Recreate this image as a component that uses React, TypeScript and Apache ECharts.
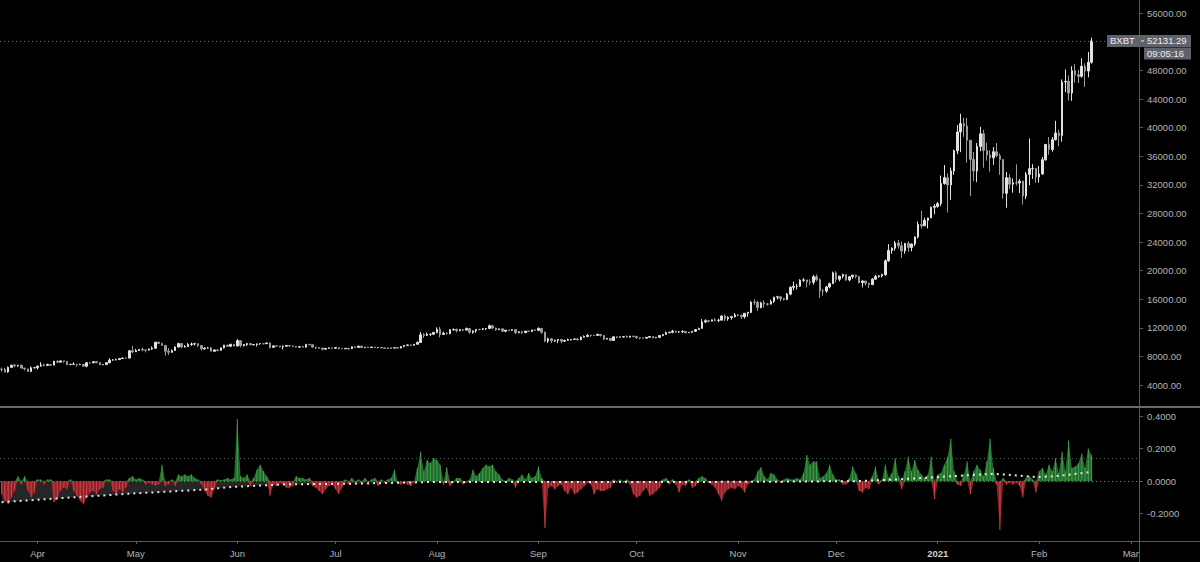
import React, { useEffect, useRef } from "react";
import * as echarts from "echarts";

// ---- data ----
const symbolName = "BXBT";
const clockText = "09:05:16";
const startYear = 2020;
const startMonth = 2; // March (0-based)
const startDay = 21;
const dayCount = 348; // axis spans Mar 21 2020 .. Mar 3 2021
const firstOpen = 6190;
const monthNames = ["Jan", "Feb", "Mar", "Apr", "May", "Jun", "Jul", "Aug", "Sep", "Oct", "Nov", "Dec"];

// daily closes from 2020-03-21 to 2021-02-17
const closes = [
  6185, 5830, 6470, 6760, 6690, 6760, 6370, 6250, 5880, 6400, 6420,
  6640, 6800, 6740, 6870, 6780, 7330, 7200, 7370, 7300, 6870, 6890, 6920, 6860, 6880, 6640, 7120, 7100, 7260, 7130, 6850, 6860, 7130, 7490, 7510, 7550, 7700, 7780, 7770, 8790, 8640,
  8830, 8980, 8900, 8890, 9030, 9150, 9990, 9810, 9540, 8730, 8570, 8820, 9310, 9790, 9320, 9380, 9680, 9730, 9780, 9510, 9060, 9170, 9180, 8720, 8900, 8840, 9200, 9580, 9420, 9700, 9450,
  10200, 9520, 9670, 9790, 9620, 9670, 9750, 9780, 9775, 9870, 9270, 9470, 9465, 9340, 9430, 9520, 9460, 9390, 9300, 9360, 9290, 9690, 9630, 9300, 9250, 9160, 9010, 9120, 9190, 9140,
  9230, 9090, 9060, 9130, 9080, 9350, 9250, 9440, 9240, 9290, 9240, 9300, 9240, 9250, 9190, 9130, 9160, 9180, 9210, 9160, 9390, 9530, 9610, 9550, 9700, 9940, 11030, 10930, 11100, 11110, 11350,
  11800, 11070, 11230, 11190, 11740, 11770, 11600, 11760, 11680, 11890, 11390, 11570, 11780, 11770, 11860, 11910, 12290, 11970, 11730, 11860, 11530, 11680, 11650, 11750, 11320, 11460, 11320, 11540, 11490, 11710, 11650,
  11920, 11390, 10170, 10470, 10170, 10250, 10370, 10130, 10230, 10340, 10390, 10440, 10330, 10680, 10790, 10950, 10940, 10930, 11080, 10920, 10420, 10530, 10240, 10740, 10690, 10730, 10770, 10690, 10840, 10780,
  10620, 10570, 10550, 10670, 10790, 10600, 10670, 10920, 11060, 11300, 11380, 11540, 11420, 11430, 11500, 11320, 11370, 11510, 11750, 11920, 12820, 12990, 12930, 13120, 13030, 13070, 13650, 13270, 13460, 13560, 13800,
  13760, 13550, 14030, 14150, 15590, 15580, 14830, 15480, 15330, 15310, 15700, 16290, 16330, 16070, 15960, 16720, 17660, 17800, 17820, 18660, 18700, 18420, 18370, 19150, 18740, 17150, 17140, 17720, 18180, 19700,
  18790, 19220, 19450, 18700, 19150, 19360, 19170, 18320, 18550, 18250, 18040, 18810, 19170, 19270, 19440, 21380, 22830, 23140, 23870, 23480, 22740, 23820, 23250, 23720, 24710, 26440, 26270, 27040, 27370, 28860, 28990,
  29370, 32190, 33000, 31990, 33950, 36770, 39400, 40580, 40240, 38240, 35570, 33940, 37380, 39150, 36820, 36180, 35790, 36630, 36070, 35550, 30830, 33000, 32100, 32280, 32270, 32510, 30440, 33470, 34260, 34320, 33110,
  33530, 35510, 37660, 36950, 38310, 39260, 38900, 46400, 46480, 44840, 47970, 47400, 47180, 48580, 47930, 49150, 52131.29,
];

const highs = [
  6440, 6390, 6590, 6840, 6960, 6790, 6870, 6380, 6260, 6600, 6530,
  6740, 7190, 7000, 6990, 6890, 7370, 7460, 7420, 7380, 7310, 6950, 7190, 6920, 6990, 6940, 7200, 7160, 7300, 7260, 7220, 6930, 7170, 7740, 7610, 7700, 7740, 7800, 7800, 8900, 9470,
  9060, 9010, 9190, 8950, 9100, 9390, 10000, 10040, 9920, 9580, 9170, 8960, 9400, 9920, 9840, 9580, 9880, 9950, 9900, 9800, 9560, 9270, 9310, 9310, 8980, 9010, 9230, 9620, 9610, 9740, 9710,
  10430, 10230, 9690, 9880, 9860, 9730, 9800, 9800, 9870, 9990, 9960, 9550, 9490, 9480, 9520, 9580, 9550, 9490, 9400, 9390, 9420, 9710, 9700, 9670, 9330, 9300, 9200, 9180, 9230, 9200,
  9290, 9250, 9130, 9180, 9140, 9380, 9360, 9460, 9450, 9300, 9300, 9340, 9340, 9280, 9270, 9210, 9190, 9200, 9240, 9220, 9420, 9540, 9640, 9640, 9740, 10110, 11420, 11260, 11350, 11180, 11450,
  12060, 12120, 11480, 11420, 11790, 11910, 11910, 11810, 11800, 12050, 11940, 11620, 11790, 11860, 11980, 11930, 12460, 12390, 12020, 11880, 11880, 11690, 11710, 11820, 11770, 11530, 11580, 11550, 11570, 11720, 11790,
  12070, 11940, 11470, 10630, 10560, 10350, 10400, 10440, 10350, 10490, 10400, 10480, 10570, 10800, 10940, 11100, 11040, 11040, 11180, 11080, 10990, 10570, 10540, 10780, 10770, 10780, 10800, 10950, 10860, 10850,
  10910, 10660, 10600, 10690, 10800, 10800, 10690, 10950, 11100, 11490, 11440, 11720, 11560, 11550, 11630, 11540, 11400, 11530, 11820, 12020, 13220, 13190, 13020, 13170, 13350, 13250, 13790, 13860, 13640, 13680, 14080,
  13900, 13820, 14060, 14250, 15740, 15970, 15770, 15650, 15840, 15480, 15960, 16340, 16480, 16340, 16140, 16870, 17800, 18480, 18140, 18800, 18960, 18720, 18780, 19410, 19480, 18900, 17450, 17880, 18340, 19850,
  19920, 19310, 19580, 19520, 19170, 19420, 19420, 19290, 18640, 18560, 18290, 18950, 19410, 19350, 19570, 21560, 23700, 23260, 24170, 24300, 24090, 23850, 24100, 23790, 24790, 26870, 28390, 27410, 27390, 28980, 29300,
  29600, 33300, 34780, 33600, 34410, 36940, 40370, 41950, 41360, 41350, 38260, 36600, 37850, 40100, 39700, 37900, 36850, 37300, 37850, 36400, 35600, 33800, 33500, 32900, 34880, 32800, 32560, 33800, 38500, 34900, 34300,
  34640, 35900, 37700, 38700, 38700, 40950, 39700, 46750, 48150, 47300, 48600, 48870, 48100, 49700, 49000, 50600, 52600,
];

const lows = [
  5860, 5760, 5700, 6380, 6480, 6540, 6280, 6040, 5870, 5860, 6340,
  6160, 6600, 6620, 6680, 6670, 6780, 7100, 7150, 7110, 6760, 6780, 6810, 6560, 6780, 6620, 6480, 7000, 7080, 7050, 6770, 6800, 6850, 7030, 7420, 7450, 7500, 7640, 7680, 7740, 8430,
  8630, 8760, 8720, 8560, 8790, 8920, 9030, 9710, 9500, 8120, 8210, 8540, 8800, 9260, 9150, 9240, 9340, 9480, 9510, 9310, 8830, 8950, 9090, 8720, 8630, 8700, 8820, 9110, 9330, 9340, 9400,
  9420, 9280, 9380, 9460, 9590, 9570, 9400, 9640, 9680, 9730, 9090, 9240, 9380, 9250, 8970, 9380, 9360, 9300, 9230, 9190, 9270, 9280, 9580, 9230, 9000, 9050, 8840, 8970, 9050, 9090,
  9080, 8960, 9040, 9050, 8930, 9060, 9210, 9240, 9150, 9140, 9190, 9170, 9200, 9130, 9170, 9050, 9110, 9130, 9120, 9130, 9150, 9280, 9480, 9460, 9530, 9650, 9920, 10580, 10860, 10830, 10980,
  11230, 10650, 11000, 11020, 11100, 11580, 11350, 11530, 11520, 11660, 11150, 11160, 11290, 11650, 11700, 11690, 11850, 11820, 11570, 11680, 11480, 11380, 11530, 11580, 11130, 11260, 11150, 11280, 11440, 11470, 11580,
  11540, 11160, 10010, 9880, 9880, 10000, 9880, 9840, 10020, 10200, 10200, 10300, 10230, 10270, 10630, 10680, 10750, 10820, 10890, 10770, 10300, 10360, 10140, 10200, 10530, 10640, 10630, 10640, 10640, 10670,
  10440, 10380, 10520, 10530, 10630, 10530, 10560, 10540, 10830, 11050, 11280, 11220, 11300, 11290, 11280, 11220, 11300, 11350, 11420, 11690, 11900, 12680, 12720, 12900, 12900, 12800, 13060, 12950, 12990, 13130, 13430,
  13620, 13220, 13290, 13530, 14100, 15210, 14350, 14720, 14810, 15100, 15290, 15460, 15960, 15710, 15800, 15870, 16540, 17240, 17350, 17780, 18390, 17670, 18000, 18030, 18510, 16200, 16500, 16880, 17520, 18180,
  18320, 18500, 18920, 18580, 18500, 18860, 18920, 18200, 17650, 17910, 17570, 18020, 18720, 19000, 19050, 19290, 21240, 22350, 22780, 23070, 21810, 22360, 22640, 22700, 23440, 24500, 25880, 26260, 25900, 27340, 27880,
  28800, 29020, 32020, 28130, 29900, 33400, 36300, 36570, 38720, 35110, 30420, 32530, 32380, 36700, 34400, 35400, 33850, 34800, 35900, 33400, 30070, 28800, 31400, 30900, 31900, 30850, 29250, 30000, 31950, 32850, 32300,
  32300, 33420, 35380, 36200, 36650, 38220, 37400, 38050, 45000, 43800, 43750, 46300, 46250, 47000, 45700, 47050, 48950,
];

// lower pane oscillator, one value per day from 2020-03-21
const histogram = [
  -0.08, -0.12, -0.14, -0.1, -0.06, 0.03, -0.02, 0.03, -0.06, -0.1, -0.07,
  0.01, 0.01, -0.02, 0.01, 0.01, -0.13, -0.11, -0.06, -0.04, -0.05, 0.01,
  -0.06, -0.09, -0.12, -0.14, -0.1, -0.07, -0.06, -0.08, -0.05, -0.04, 0.01, 0.01,
  -0.06, -0.08, -0.05, -0.07, -0.04, 0.02, 0.03, 0.01, 0.02, 0.01,
  -0.02, -0.01, -0.02, -0.03, -0.02, 0.1, -0.03, -0.02, 0.01, -0.03,
  0.04, 0.03, 0.04, 0.03, 0.04, 0.02, 0.01, -0.02, -0.06, -0.09, -0.1, -0.05,
  0.01, 0.005, 0.01, 0.02, 0.01, 0.02, 0.38, 0.03, 0.02, 0.04, -0.03,
  0.02, 0.07, 0.1, 0.06, 0.03, -0.09, -0.02, -0.03, -0.01, -0.02,
  -0.04, -0.04, -0.03, 0.03, 0.02, 0.02, 0.01, 0.02, -0.03, -0.04, -0.06, -0.08,
  -0.05, -0.03, -0.02, -0.05, -0.08, -0.04,
  0.01, -0.02, 0.02, -0.01, 0.01, -0.02, 0.02, -0.01, 0.01, 0.02, -0.03, 0.01, -0.01, 0.01, 0.02,
  0.07, -0.01, -0.02, -0.01, -0.02, -0.03, -0.01, 0.08, 0.18, 0.06,
  0.13, 0.11, 0.14, 0.13, 0.1, -0.02, 0.085, -0.03, -0.01, 0.02, 0.02, -0.02, -0.01, 0.01,
  0.07, 0.03, 0.05, 0.08, 0.1, 0.09, 0.1, 0.06, 0.04, 0.01, -0.01, 0.02, 0.01, -0.04,
  0.02, 0.04, 0.01, 0.05, 0.02, 0.03, 0.09, 0.02, -0.29,
  -0.04, -0.03, -0.05, -0.03, -0.02, -0.06, -0.08,
  -0.04, -0.08, -0.07, -0.05, -0.03, -0.01, -0.02, -0.08, -0.05, -0.06, -0.06, -0.05, -0.04,
  0.01, -0.01, 0.01, -0.01, 0.01, -0.02, -0.08, -0.1, -0.09, -0.06,
  -0.04, -0.09, -0.08, -0.06, -0.04, 0.01, 0.02, -0.02, 0.01, -0.02, -0.07,
  -0.02, -0.03, 0.01, -0.04, -0.03, 0.02, 0.03, 0.02, -0.01, -0.02, -0.04,
  -0.08, -0.12, -0.07, -0.05, -0.04, -0.05, -0.03, -0.04, -0.07, -0.02, -0.01, 0.01,
  0.06, 0.085, 0.03, 0.01, 0.05, 0.04, 0.01, -0.01, 0.01, 0.02, 0.01, 0.01, 0.02, 0.01,
  0.05, 0.16, 0.1, 0.12, 0.12, 0.02, 0.03, 0.05, 0.1, 0.04, 0.01, 0.01, -0.02, -0.02, 0.02, 0.09,
  0.05, -0.06, -0.07, -0.04, -0.05, 0.03, 0.09, -0.02, 0.01, 0.1, 0.02, 0.05,
  0.14, 0.03, -0.05, 0.06, 0.15, 0.06, 0.13, 0.07, 0.04, 0.02, 0.04, 0.15, -0.11,
  0.04, 0.05, 0.1, 0.15, 0.26, 0.06, -0.02, -0.03,
  0.04, 0.12, -0.08, 0.06, 0.1, 0.07, 0.03, 0.12, 0.26, 0.08, -0.02, -0.3,
  0.02, -0.02, -0.01, -0.02, -0.01, -0.03, -0.1, 0.02, 0.03, 0.01, -0.07, 0.06, 0.08,
  0.04, 0.1, 0.06, 0.14, 0.05, 0.18, 0.06, 0.25, 0.08, 0.09, 0.11, 0.17, 0.08, 0.2, 0.16,
];

// dotted signal line, read at these day indices
const signalDays = [0, 20, 40, 61, 71, 86, 110, 130, 175, 200, 240, 261, 275, 290, 303, 309, 316, 322, 333];
const signalValues = [-0.129, -0.102, -0.076, -0.053, -0.035, -0.02, -0.015, -0.006, -0.006, -0.006, -0.003, 0.0, 0.012, 0.03, 0.045, 0.037, 0.025, 0.03, 0.057];

const thresholdLevel = 0.143;
const priceMin = 4000;
const priceMax = 56000;
const priceStep = 4000;
const oscMin = -0.2;
const oscMax = 0.4;
const oscStep = 0.2;

const FONT = "Liberation Sans";
const LABEL = "#b4b4b4";
const FRAME = "#5a5a5a";
const GREEN_FILL = "#236b2b";
const RED_FILL = "#8e2329";
const GREEN_BAR = "#44a04c";
const RED_BAR = "#cf434a";
const SHADE = "#262626";

export default function App() {
  const ref = useRef<HTMLDivElement>(null);

  useEffect(() => {
    if (!ref.current) return;
    const chart = echarts.init(ref.current, null, { renderer: "svg" });

    const dates: string[] = [];
    const t0 = Date.UTC(startYear, startMonth, startDay);
    for (let i = 0; i < dayCount; i++) {
      dates.push(new Date(t0 + i * 86400000).toISOString().slice(0, 10));
    }
    const isMonthStart = (idx: number) => !!dates[idx] && dates[idx].slice(8) === "01";
    const candles = closes.map((c, i) => [i === 0 ? firstOpen : closes[i - 1], c, lows[i], highs[i]]);
    const lastClose = closes[closes.length - 1];
    const signalData = signalDays.map((d, i) => [d, signalValues[i]]);
    const negPart = histogram.map((v) => Math.min(0, v));
    const posPart = histogram.map((v) => Math.max(0, v));
    // the shaded band only exists while the signal line is below zero
    const crossIdx = signalDays[signalValues.findIndex((v) => v >= 0)];
    const shadeTop = negPart.slice(0, crossIdx + 1);
    const maskData = signalData.filter((p) => (p[0] as number) <= crossIdx);

    const paneArea = (data: any, z: number, color: string, origin: any) => ({
      type: "line",
      xAxisIndex: 1,
      yAxisIndex: 1,
      data,
      symbol: "none",
      clip: false,
      z,
      lineStyle: { width: 0 },
      areaStyle: { color, opacity: 1, origin },
    });

    chart.setOption({
      animation: false,
      backgroundColor: "#000000",
      grid: [
        { left: 0, top: 13.3, width: 1139, height: 371.7 },
        { left: 0, top: 416, width: 1139, height: 97.7 },
        { left: 0, top: 407, width: 1139, height: 134 },
      ],
      xAxis: [
        { type: "category", gridIndex: 0, data: dates, boundaryGap: true, show: false },
        { type: "category", gridIndex: 1, data: dates, boundaryGap: true, show: false },
        {
          type: "category",
          gridIndex: 2,
          data: dates,
          boundaryGap: true,
          axisLine: { show: false },
          axisTick: { show: true, interval: (i: number) => isMonthStart(i), alignWithLabel: true, length: 3, lineStyle: { color: FRAME } },
          axisLabel: {
            interval: (i: number) => isMonthStart(i),
            margin: 7,
            color: LABEL,
            fontSize: 9.5,
            fontFamily: FONT,
            formatter: (v: string) => {
              const m = parseInt(v.slice(5, 7), 10) - 1;
              return m === 0 ? "{y|" + v.slice(0, 4) + "}" : monthNames[m];
            },
            rich: { y: { fontWeight: "bold", color: "#d0d0d0", fontSize: 9.5, fontFamily: FONT } },
          },
          splitLine: { show: false },
        },
      ],
      yAxis: [
        {
          type: "value",
          gridIndex: 0,
          position: "right",
          min: priceMin,
          max: priceMax,
          interval: priceStep,
          axisLine: { show: false },
          axisTick: { show: true, length: 4, lineStyle: { color: FRAME } },
          axisLabel: { margin: 8, color: LABEL, fontSize: 9.5, fontFamily: FONT, formatter: (v: number) => v.toFixed(2) },
          splitLine: { show: false },
        },
        {
          type: "value",
          gridIndex: 1,
          position: "right",
          min: oscMin,
          max: oscMax,
          interval: oscStep,
          axisLine: { show: false },
          axisTick: { show: true, length: 4, lineStyle: { color: FRAME } },
          axisLabel: { margin: 8, color: LABEL, fontSize: 9.5, fontFamily: FONT, formatter: (v: number) => v.toFixed(4) },
          splitLine: { show: false },
        },
        { type: "value", gridIndex: 2, min: 0, max: 1, show: false },
      ],
      series: [
        {
          type: "candlestick",
          xAxisIndex: 0,
          yAxisIndex: 0,
          data: candles,
          barWidth: 2,
          itemStyle: {
            color: "#e2e2e2",
            color0: "#9c9c9c",
            borderColor: "#e2e2e2",
            borderColor0: "#9c9c9c",
            borderWidth: 1,
          },
          markLine: {
            silent: true,
            symbol: "none",
            label: { show: false },
            lineStyle: { color: "#6a6d76", type: [1, 3], width: 1 },
            data: [{ yAxis: lastClose }],
          },
        },
        // dark shading between histogram and signal line
        paneArea(shadeTop, 1, SHADE, "start"),
        paneArea(maskData, 2, "#000000", "start"),
        // histogram envelope fills
        paneArea(posPart, 3, GREEN_FILL, "auto"),
        paneArea(negPart, 3, RED_FILL, "auto"),
        {
          type: "bar",
          xAxisIndex: 1,
          yAxisIndex: 1,
          data: histogram,
          barWidth: 1,
          clip: false,
          z: 4,
          itemStyle: {
            color: (p: any) => (p.value >= 0 ? GREEN_BAR : RED_BAR),
          },
          markLine: {
            silent: true,
            symbol: "none",
            label: { show: false },
            data: [
              { yAxis: 0, lineStyle: { color: "#7a7a7a", type: [1, 3], width: 1 } },
              { yAxis: thresholdLevel, lineStyle: { color: "#4d6a4d", type: [1, 3], width: 1 } },
            ],
          },
        },
        {
          type: "line",
          xAxisIndex: 1,
          yAxisIndex: 1,
          data: signalData,
          symbol: "none",
          clip: false,
          z: 6,
          lineStyle: { color: "#e6e6e6", width: 2, type: [2, 4] },
        },
      ],
    });

    const py = chart.convertToPixel({ yAxisIndex: 0 }, lastClose) as number;
    const oscBottom = chart.convertToPixel({ yAxisIndex: 1 }, oscMin) as number;
    const txt = (text: string, x: number, y: number, fill: string) => ({
      type: "text",
      z: 100,
      style: { text, x, y, fill, font: `9.5px "${FONT}"`, align: "left", verticalAlign: "middle", textAlign: "left", textVerticalAlign: "middle" },
    });
    chart.setOption({
      graphic: [
        // hide the seam where the shading and its mask share their lower edge
        { type: "rect", z: 2, shape: { x: 0, y: oscBottom - 1.5, width: 1139, height: 4 }, style: { fill: "#000000" } },
        { type: "line", z: 50, shape: { x1: 1139.5, y1: 0, x2: 1139.5, y2: 562 }, style: { stroke: FRAME, lineWidth: 1 } },
        { type: "line", z: 50, shape: { x1: 0, y1: 407, x2: 1200, y2: 407 }, style: { stroke: "#6a6a6a", lineWidth: 2 } },
        { type: "line", z: 50, shape: { x1: 0, y1: 541.5, x2: 1200, y2: 541.5 }, style: { stroke: FRAME, lineWidth: 1 } },
        { type: "rect", z: 90, shape: { x: 1107, y: py - 6, width: 84, height: 12 }, style: { fill: "#5f626b" } },
        { type: "rect", z: 90, shape: { x: 1144, y: py + 6.5, width: 47, height: 12 }, style: { fill: "#5f626b" } },
        { type: "line", z: 95, shape: { x1: 1141, y1: py, x2: 1144, y2: py }, style: { stroke: "#e8e8e8", lineWidth: 1 } },
        txt(symbolName, 1110, py, "#eeeeee"),
        txt(lastClose.toFixed(2), 1147, py, "#eeeeee"),
        txt(clockText, 1147, py + 12.5, "#eeeeee"),
      ],
    });

    return () => chart.dispose();
  }, []);

  return <div ref={ref} style={{ position: "fixed", left: 0, top: 0, width: 1200, height: 562, background: "#000" }} />;
}
